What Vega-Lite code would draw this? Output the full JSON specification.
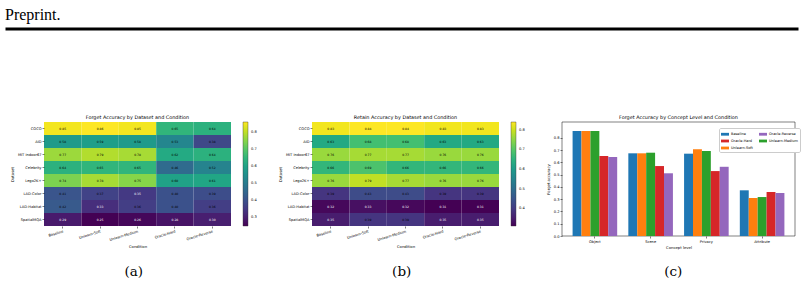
{
  "$schema": "https://vega.github.io/schema/vega-lite/v6.json",
  "background": "white",
  "padding": {"left": 4, "top": 6, "right": 2, "bottom": 2},
  "spacing": 85,
  "datasets": {
    "forget": [
      {"dataset": "COCO", "condition": "Baseline", "acc": 0.85},
      {"dataset": "COCO", "condition": "Unlearn-Soft", "acc": 0.86},
      {"dataset": "COCO", "condition": "Unlearn-Medium", "acc": 0.85},
      {"dataset": "COCO", "condition": "Oracle-Hard", "acc": 0.65},
      {"dataset": "COCO", "condition": "Oracle-Reverse", "acc": 0.64},
      {"dataset": "AID", "condition": "Baseline", "acc": 0.58},
      {"dataset": "AID", "condition": "Unlearn-Soft", "acc": 0.59},
      {"dataset": "AID", "condition": "Unlearn-Medium", "acc": 0.58},
      {"dataset": "AID", "condition": "Oracle-Hard", "acc": 0.53},
      {"dataset": "AID", "condition": "Oracle-Reverse", "acc": 0.38},
      {"dataset": "MIT Indoor67", "condition": "Baseline", "acc": 0.77},
      {"dataset": "MIT Indoor67", "condition": "Unlearn-Soft", "acc": 0.79},
      {"dataset": "MIT Indoor67", "condition": "Unlearn-Medium", "acc": 0.78},
      {"dataset": "MIT Indoor67", "condition": "Oracle-Hard", "acc": 0.62},
      {"dataset": "MIT Indoor67", "condition": "Oracle-Reverse", "acc": 0.64},
      {"dataset": "Celebrity", "condition": "Baseline", "acc": 0.64},
      {"dataset": "Celebrity", "condition": "Unlearn-Soft", "acc": 0.65},
      {"dataset": "Celebrity", "condition": "Unlearn-Medium", "acc": 0.65},
      {"dataset": "Celebrity", "condition": "Oracle-Hard", "acc": 0.46},
      {"dataset": "Celebrity", "condition": "Oracle-Reverse", "acc": 0.52},
      {"dataset": "Lego2K+", "condition": "Baseline", "acc": 0.74},
      {"dataset": "Lego2K+", "condition": "Unlearn-Soft", "acc": 0.78},
      {"dataset": "Lego2K+", "condition": "Unlearn-Medium", "acc": 0.75},
      {"dataset": "Lego2K+", "condition": "Oracle-Hard", "acc": 0.60},
      {"dataset": "Lego2K+", "condition": "Oracle-Reverse", "acc": 0.61},
      {"dataset": "LAD-Color", "condition": "Baseline", "acc": 0.41},
      {"dataset": "LAD-Color", "condition": "Unlearn-Soft", "acc": 0.37},
      {"dataset": "LAD-Color", "condition": "Unlearn-Medium", "acc": 0.35},
      {"dataset": "LAD-Color", "condition": "Oracle-Hard", "acc": 0.40},
      {"dataset": "LAD-Color", "condition": "Oracle-Reverse", "acc": 0.39},
      {"dataset": "LAD-Habitat", "condition": "Baseline", "acc": 0.42},
      {"dataset": "LAD-Habitat", "condition": "Unlearn-Soft", "acc": 0.33},
      {"dataset": "LAD-Habitat", "condition": "Unlearn-Medium", "acc": 0.36},
      {"dataset": "LAD-Habitat", "condition": "Oracle-Hard", "acc": 0.40},
      {"dataset": "LAD-Habitat", "condition": "Oracle-Reverse", "acc": 0.36},
      {"dataset": "SpatialMQA", "condition": "Baseline", "acc": 0.29},
      {"dataset": "SpatialMQA", "condition": "Unlearn-Soft", "acc": 0.25},
      {"dataset": "SpatialMQA", "condition": "Unlearn-Medium", "acc": 0.26},
      {"dataset": "SpatialMQA", "condition": "Oracle-Hard", "acc": 0.28},
      {"dataset": "SpatialMQA", "condition": "Oracle-Reverse", "acc": 0.30}
    ],
    "retain": [
      {"dataset": "COCO", "condition": "Baseline", "acc": 0.83},
      {"dataset": "COCO", "condition": "Unlearn-Soft", "acc": 0.84},
      {"dataset": "COCO", "condition": "Unlearn-Medium", "acc": 0.84},
      {"dataset": "COCO", "condition": "Oracle-Hard", "acc": 0.83},
      {"dataset": "COCO", "condition": "Oracle-Reverse", "acc": 0.83},
      {"dataset": "AID", "condition": "Baseline", "acc": 0.63},
      {"dataset": "AID", "condition": "Unlearn-Soft", "acc": 0.68},
      {"dataset": "AID", "condition": "Unlearn-Medium", "acc": 0.68},
      {"dataset": "AID", "condition": "Oracle-Hard", "acc": 0.63},
      {"dataset": "AID", "condition": "Oracle-Reverse", "acc": 0.63},
      {"dataset": "MIT Indoor67", "condition": "Baseline", "acc": 0.76},
      {"dataset": "MIT Indoor67", "condition": "Unlearn-Soft", "acc": 0.77},
      {"dataset": "MIT Indoor67", "condition": "Unlearn-Medium", "acc": 0.77},
      {"dataset": "MIT Indoor67", "condition": "Oracle-Hard", "acc": 0.76},
      {"dataset": "MIT Indoor67", "condition": "Oracle-Reverse", "acc": 0.76},
      {"dataset": "Celebrity", "condition": "Baseline", "acc": 0.66},
      {"dataset": "Celebrity", "condition": "Unlearn-Soft", "acc": 0.69},
      {"dataset": "Celebrity", "condition": "Unlearn-Medium", "acc": 0.66},
      {"dataset": "Celebrity", "condition": "Oracle-Hard", "acc": 0.66},
      {"dataset": "Celebrity", "condition": "Oracle-Reverse", "acc": 0.66},
      {"dataset": "Lego2K+", "condition": "Baseline", "acc": 0.76},
      {"dataset": "Lego2K+", "condition": "Unlearn-Soft", "acc": 0.79},
      {"dataset": "Lego2K+", "condition": "Unlearn-Medium", "acc": 0.77},
      {"dataset": "Lego2K+", "condition": "Oracle-Hard", "acc": 0.76},
      {"dataset": "Lego2K+", "condition": "Oracle-Reverse", "acc": 0.76},
      {"dataset": "LAD-Color", "condition": "Baseline", "acc": 0.39},
      {"dataset": "LAD-Color", "condition": "Unlearn-Soft", "acc": 0.43},
      {"dataset": "LAD-Color", "condition": "Unlearn-Medium", "acc": 0.43},
      {"dataset": "LAD-Color", "condition": "Oracle-Hard", "acc": 0.39},
      {"dataset": "LAD-Color", "condition": "Oracle-Reverse", "acc": 0.39},
      {"dataset": "LAD-Habitat", "condition": "Baseline", "acc": 0.32},
      {"dataset": "LAD-Habitat", "condition": "Unlearn-Soft", "acc": 0.33},
      {"dataset": "LAD-Habitat", "condition": "Unlearn-Medium", "acc": 0.32},
      {"dataset": "LAD-Habitat", "condition": "Oracle-Hard", "acc": 0.31},
      {"dataset": "LAD-Habitat", "condition": "Oracle-Reverse", "acc": 0.31},
      {"dataset": "SpatialMQA", "condition": "Baseline", "acc": 0.35},
      {"dataset": "SpatialMQA", "condition": "Unlearn-Soft", "acc": 0.39},
      {"dataset": "SpatialMQA", "condition": "Unlearn-Medium", "acc": 0.39},
      {"dataset": "SpatialMQA", "condition": "Oracle-Hard", "acc": 0.35},
      {"dataset": "SpatialMQA", "condition": "Oracle-Reverse", "acc": 0.35}
    ],
    "concept": [
      {"level": "Object", "condition": "Baseline", "acc": 0.857},
      {"level": "Object", "condition": "Unlearn-Soft", "acc": 0.857},
      {"level": "Object", "condition": "Unlearn-Medium", "acc": 0.857},
      {"level": "Object", "condition": "Oracle-Hard", "acc": 0.653},
      {"level": "Object", "condition": "Oracle-Reverse", "acc": 0.645},
      {"level": "Scene", "condition": "Baseline", "acc": 0.675},
      {"level": "Scene", "condition": "Unlearn-Soft", "acc": 0.675},
      {"level": "Scene", "condition": "Unlearn-Medium", "acc": 0.68},
      {"level": "Scene", "condition": "Oracle-Hard", "acc": 0.571},
      {"level": "Scene", "condition": "Oracle-Reverse", "acc": 0.512},
      {"level": "Privacy", "condition": "Baseline", "acc": 0.672},
      {"level": "Privacy", "condition": "Unlearn-Soft", "acc": 0.708},
      {"level": "Privacy", "condition": "Unlearn-Medium", "acc": 0.694},
      {"level": "Privacy", "condition": "Oracle-Hard", "acc": 0.53},
      {"level": "Privacy", "condition": "Oracle-Reverse", "acc": 0.565},
      {"level": "Attribute", "condition": "Baseline", "acc": 0.373},
      {"level": "Attribute", "condition": "Unlearn-Soft", "acc": 0.31},
      {"level": "Attribute", "condition": "Unlearn-Medium", "acc": 0.318},
      {"level": "Attribute", "condition": "Oracle-Hard", "acc": 0.359},
      {"level": "Attribute", "condition": "Oracle-Reverse", "acc": 0.351}
    ]
  },
  "vconcat": [
    {
      "width": 754,
      "height": 8.5,
      "title": {"text": "Preprint.", "anchor": "start", "frame": "group", "dx": -39, "dy": 15.5, "offset": 0, "baseline": "alphabetic", "font": "Liberation Serif", "fontSize": 16, "fontWeight": "normal", "color": "black"},
      "data": {"values": [{"p": 0}]},
      "mark": {"type": "point", "opacity": 0, "size": 1},
      "encoding": {
        "x": {"field": "p", "type": "quantitative", "scale": {"domain": [0, 1], "range": [-39, 754]},
              "axis": {"orient": "bottom", "domainWidth": 3, "domainColor": "black", "ticks": false, "labels": false, "title": null, "grid": false}}
      }
    },
    {
      "columns": 3,
      "align": "none",
      "spacing": 21,
      "concat": [
        {
          "title": {"text": "(a)", "orient": "bottom", "anchor": "middle", "font": "DejaVu Serif", "fontSize": 13.5, "offset": 17},
          "vconcat": [
            {
              "width": 187,
              "height": 104,
              "title": {"text": "Forget Accuracy by Dataset and Condition"},
              "data": {"name": "forget"},
              "encoding": {
                "x": {"field": "condition", "type": "nominal", "title": "Condition",
                      "sort": ["Baseline", "Unlearn-Soft", "Unlearn-Medium", "Oracle-Hard", "Oracle-Reverse"],
                      "scale": {"paddingInner": 0, "paddingOuter": 0},
                      "axis": {"labelAngle": -17, "labelAlign": "right", "labelBaseline": "top", "domain": false}},
                "y": {"field": "dataset", "type": "nominal", "title": "Dataset",
                      "sort": ["COCO", "AID", "MIT Indoor67", "Celebrity", "Lego2K+", "LAD-Color", "LAD-Habitat", "SpatialMQA"],
                      "scale": {"paddingInner": 0, "paddingOuter": 0},
                      "axis": {"domain": false}}
              },
              "layer": [
                {
                  "mark": "rect",
                  "encoding": {
                    "color": {"field": "acc", "type": "quantitative", "scale": {"scheme": "viridis", "zero": false, "nice": false},
                              "legend": {"orient": "right", "offset": 12, "direction": "vertical", "title": null, "gradientLength": 104, "gradientThickness": 5,
                                         "gradientStrokeColor": "#333333", "gradientStrokeWidth": 0.4, "values": [0.3, 0.4, 0.5, 0.6, 0.7, 0.8], "format": ".1f",
                                         "labelFontSize": 3.6, "labelOffset": 3, "labelColor": "black"}}
                  }
                },
                {
                  "mark": {"type": "text", "fontSize": 3, "font": "DejaVu Sans"},
                  "encoding": {
                    "text": {"field": "acc", "type": "quantitative", "format": ".2f"},
                    "color": {"condition": {"test": "datum.acc < 0.36", "value": "white"}, "value": "black"}
                  }
                }
              ]
            }
          ]
        },
        {
          "title": {"text": "(b)", "orient": "bottom", "anchor": "middle", "font": "DejaVu Serif", "fontSize": 13.5, "offset": 17},
          "vconcat": [
            {
              "width": 187,
              "height": 104,
              "title": {"text": "Retain Accuracy by Dataset and Condition"},
              "data": {"name": "retain"},
              "encoding": {
                "x": {"field": "condition", "type": "nominal", "title": "Condition",
                      "sort": ["Baseline", "Unlearn-Soft", "Unlearn-Medium", "Oracle-Hard", "Oracle-Reverse"],
                      "scale": {"paddingInner": 0, "paddingOuter": 0},
                      "axis": {"labelAngle": -17, "labelAlign": "right", "labelBaseline": "top", "domain": false}},
                "y": {"field": "dataset", "type": "nominal", "title": "Dataset",
                      "sort": ["COCO", "AID", "MIT Indoor67", "Celebrity", "Lego2K+", "LAD-Color", "LAD-Habitat", "SpatialMQA"],
                      "scale": {"paddingInner": 0, "paddingOuter": 0},
                      "axis": {"domain": false}}
              },
              "layer": [
                {
                  "mark": "rect",
                  "encoding": {
                    "color": {"field": "acc", "type": "quantitative", "scale": {"scheme": "viridis", "zero": false, "nice": false},
                              "legend": {"orient": "right", "offset": 12, "direction": "vertical", "title": null, "gradientLength": 104, "gradientThickness": 5,
                                         "gradientStrokeColor": "#333333", "gradientStrokeWidth": 0.4, "values": [0.4, 0.5, 0.6, 0.7, 0.8], "format": ".1f",
                                         "labelFontSize": 3.6, "labelOffset": 3, "labelColor": "black"}}
                  }
                },
                {
                  "mark": {"type": "text", "fontSize": 3, "font": "DejaVu Sans"},
                  "encoding": {
                    "text": {"field": "acc", "type": "quantitative", "format": ".2f"},
                    "color": {"condition": {"test": "datum.acc < 0.36", "value": "white"}, "value": "black"}
                  }
                }
              ]
            }
          ]
        },
        {
          "title": {"text": "(c)", "orient": "bottom", "anchor": "middle", "font": "DejaVu Serif", "fontSize": 13.5, "offset": 15},
          "vconcat": [
            {
              "width": 233,
              "height": 114,
              "title": {"text": "Forget Accuracy by Concept Level and Condition", "offset": 2},
              "view": {"stroke": "black", "strokeWidth": 0.5},
              "data": {"name": "concept"},
              "mark": "bar",
              "encoding": {
                "x": {"field": "level", "type": "nominal", "title": "Concept level",
                      "sort": ["Object", "Scene", "Privacy", "Attribute"],
                      "scale": {"paddingInner": 0.2, "paddingOuter": 0.19},
                      "axis": {"labelAngle": 0, "domain": false}},
                "xOffset": {"field": "condition", "type": "nominal",
                            "sort": ["Baseline", "Unlearn-Soft", "Unlearn-Medium", "Oracle-Hard", "Oracle-Reverse"],
                            "scale": {"paddingInner": 0, "paddingOuter": 0}},
                "y": {"field": "acc", "type": "quantitative", "title": "Forget accuracy",
                      "scale": {"domain": [0, 0.9306], "nice": false},
                      "axis": {"values": [0, 0.1, 0.2, 0.3, 0.4, 0.5, 0.6, 0.7, 0.8], "format": ".1f", "domain": false}},
                "color": {"field": "condition", "type": "nominal",
                          "scale": {"domain": ["Baseline", "Oracle-Hard", "Unlearn-Soft", "Oracle-Reverse", "Unlearn-Medium"],
                                    "range": ["#1f77b4", "#d62728", "#ff7f0e", "#9467bd", "#2ca02c"]},
                          "legend": {"orient": "none", "legendX": 157, "legendY": 6, "columns": 2, "title": null,
                                     "symbolType": "M-1,-0.35L1,-0.35L1,0.35L-1,0.35Z", "symbolSize": 64, "symbolStrokeWidth": 0,
                                     "labelFontSize": 3.5, "labelOffset": 2, "rowPadding": 1, "columnPadding": 6,
                                     "padding": 2, "strokeColor": "#cccccc", "fillColor": "white", "cornerRadius": 1.5}}
              }
            }
          ]
        }
      ]
    }
  ],
  "config": {
    "view": {"stroke": null},
    "font": "DejaVu Sans",
    "title": {"fontSize": 4.9, "fontWeight": "normal", "color": "black", "offset": 2},
    "axis": {"labelFontSize": 3.6, "titleFontSize": 3.8, "titleFontWeight": "normal", "labelColor": "black", "titleColor": "black",
             "tickSize": 2, "tickWidth": 0.5, "tickColor": "black", "labelPadding": 1, "titlePadding": 3, "grid": false},
    "legend": {"labelColor": "black"}
  }
}
